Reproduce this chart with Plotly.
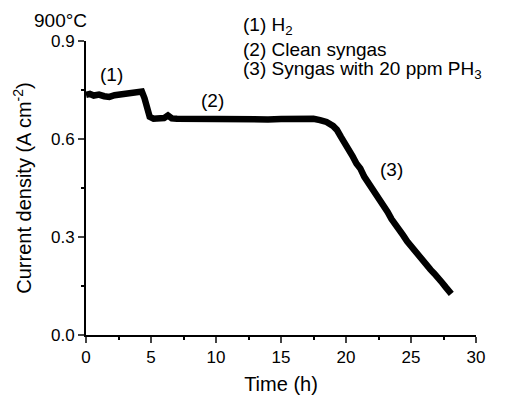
import plotly.graph_objects as go

time_h = [0.0, 0.3, 0.6, 1.0, 1.4, 1.8, 2.2, 2.6, 3.0, 3.4, 3.8, 4.1, 4.3, 4.5, 4.7, 4.9,
          5.2, 5.6, 6.0, 6.3, 6.6, 7.0, 8.0, 9.0, 10.0, 11.0, 12.0, 13.0, 14.0, 15.0, 16.0,
          16.8, 17.5, 18.0, 18.5, 19.0, 19.3, 19.6, 19.9, 20.2, 20.5, 20.8, 21.1, 21.4, 21.7,
          22.0, 22.3, 22.6, 22.9, 23.2, 23.5, 23.8, 24.1, 24.4, 24.7, 25.0, 25.3, 25.6, 25.9,
          26.2, 26.5, 26.8, 27.1, 27.4, 27.7, 28.0, 28.1]
current = [0.735, 0.738, 0.733, 0.736, 0.731, 0.729, 0.734, 0.737, 0.738, 0.740, 0.742, 0.746,
           0.745, 0.725, 0.695, 0.668, 0.662, 0.663, 0.664, 0.672, 0.663, 0.662, 0.661, 0.662,
           0.659, 0.660, 0.658, 0.659, 0.660, 0.661, 0.662, 0.664, 0.662, 0.658, 0.652, 0.640,
           0.628, 0.607, 0.590, 0.566, 0.548, 0.525, 0.510, 0.485, 0.468, 0.448, 0.430, 0.410,
           0.392, 0.377, 0.355, 0.340, 0.318, 0.305, 0.287, 0.272, 0.258, 0.240, 0.228, 0.212,
           0.200, 0.188, 0.170, 0.160, 0.145, 0.132, 0.126]

x_ticks = [0, 5, 10, 15, 20, 25, 30]
y_ticks = [0.0, 0.3, 0.6, 0.9]
y_tick_labels = ["0.0", "0.3", "0.6", "0.9"]

FONT = "Liberation Sans, Arial, sans-serif"
W, H = 512, 395
L, R, T, B = 86, 36, 41, 60
PW, PH = W - L - R, H - T - B

fig = go.Figure()
fig.add_trace(go.Scatter(x=time_h, y=current, mode="lines",
                         line=dict(color="black", width=6.5), showlegend=False))

fig.update_layout(
    width=W, height=H,
    margin=dict(l=L, r=R, t=T, b=B),
    paper_bgcolor="white", plot_bgcolor="white",
    font=dict(family=FONT, color="black", size=17),
    xaxis=dict(range=[0, 30], tickvals=x_ticks, ticks="outside", ticklen=6, tickwidth=2,
               showline=True, linewidth=2, linecolor="black", showgrid=False, zeroline=False,
               tickfont=dict(size=17), automargin=False,
               minor=dict(dtick=2.5, tick0=0, ticks="outside", ticklen=3, tickwidth=2, tickcolor="black"),
               title=dict(text="Time (h)", font=dict(size=20), standoff=12)),
    yaxis=dict(range=[0, 0.9], tickvals=y_ticks, ticktext=y_tick_labels, ticks="outside",
               ticklen=6, tickwidth=2, showline=True, linewidth=2, linecolor="black",
               showgrid=False, zeroline=False, tickfont=dict(size=17), automargin=False,
               minor=dict(dtick=0.15, tick0=0, ticks="outside", ticklen=3, tickwidth=2, tickcolor="black"),
               title=dict(text="Current density (A cm<sup>-2</sup>)", font=dict(size=20), standoff=14)),
)

ann = [
    dict(x=60, y=21, text="900°C", xanchor="center"),
    dict(x=241, y=26, text="(1) H<sub>2</sub>", xanchor="left"),
    dict(x=241, y=49, text="(2) Clean syngas", xanchor="left"),
    dict(x=241, y=70, text="(3) Syngas with 20 ppm PH<sub>3</sub>", xanchor="left"),
    dict(x=111, y=74, text="(1)", xanchor="center"),
    dict(x=212, y=100, text="(2)", xanchor="center"),
    dict(x=391, y=169, text="(3)", xanchor="center"),
]
for a in ann:
    fig.add_annotation(x=(a["x"] - L) / PW, y=1 - (a["y"] - T) / PH, xref="paper", yref="paper",
                       text=a["text"], xanchor=a["xanchor"], yanchor="middle",
                       showarrow=False, font=dict(size=19, family=FONT, color="black"))

fig.write_html("out.html")
